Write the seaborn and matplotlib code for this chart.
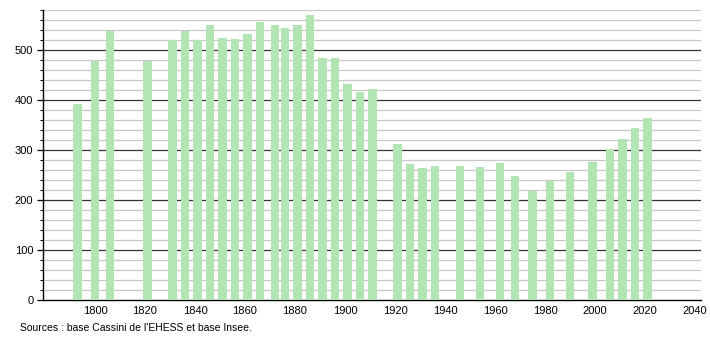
import matplotlib
matplotlib.use("Agg")
import matplotlib.pyplot as plt
import seaborn as sns
import pandas as pd
import numpy as np
from matplotlib.ticker import MultipleLocator

years = [1793, 1800, 1806, 1821, 1831, 1836, 1841, 1846, 1851, 1856, 1861, 1866,
         1872, 1876, 1881, 1886, 1891, 1896, 1901, 1906, 1911, 1921, 1926, 1931,
         1936, 1946, 1954, 1962, 1968, 1975, 1982, 1990, 1999, 2006, 2011, 2016, 2021]
population = [392, 479, 539, 479, 520, 539, 520, 551, 524, 522, 533, 556,
              551, 545, 551, 571, 484, 484, 433, 416, 422, 312, 272, 264,
              268, 268, 266, 274, 248, 219, 239, 256, 276, 302, 322, 345, 365]
source_text = "Sources : base Cassini de l'EHESS et base Insee."

df = pd.DataFrame({"year": years, "pop": population})

sns.set_theme(style="white")
plt.rcParams['font.family'] = ['Liberation Sans', 'DejaVu Sans']
plt.rcParams['text.color'] = 'black'
plt.rcParams['xtick.color'] = 'black'
plt.rcParams['ytick.color'] = 'black'

fig = plt.figure(figsize=(7.1, 3.4), dpi=100)
ax = fig.add_axes([43/710, 1 - 300/340, (701 - 43)/710, 290/340])

# native scale: width is a fraction of the smallest gap between years (4 years)
sns.barplot(data=df, x="year", y="pop", native_scale=True, width=3.3/4,
            color="#b3e4b3", saturation=1, edgecolor="none", linewidth=0,
            errorbar=None, zorder=3, ax=ax)

ax.set_xlim(1779.2, 2042.4)
ax.set_ylim(0, 580)

# gridlines
for v in range(20, 581, 20):
    if v % 100 == 0:
        ax.axhline(v, color="#333333", lw=0.9, zorder=1)
    else:
        ax.axhline(v, color="#c8c8c8", lw=0.9, zorder=1)

ax.yaxis.set_major_locator(MultipleLocator(100))
ax.yaxis.set_minor_locator(MultipleLocator(20))
ax.set_xticks(range(1800, 2041, 20))
ax.set_xticklabels([str(y) for y in range(1800, 2041, 20)])

for s in ["top", "right"]:
    ax.spines[s].set_visible(False)
for s in ["left", "bottom"]:
    ax.spines[s].set_visible(True)
    ax.spines[s].set_color("black")
    ax.spines[s].set_linewidth(1.0)

ax.tick_params(axis="y", which="major", length=4, width=0.9, color="black",
               labelsize=8, pad=3, left=True, labelcolor="black")
ax.tick_params(axis="y", which="minor", length=2, width=0.7, color="black", left=True)
ax.tick_params(axis="x", which="major", length=0, labelsize=8, pad=4, bottom=True,
               labelcolor="black")

ax.set_xlabel("")
ax.set_ylabel("")

fig.text(20/710, 1 - 328/340, source_text, fontsize=7.5, va="center", ha="left",
         color="black")

fig.savefig("out.png", dpi=100)
